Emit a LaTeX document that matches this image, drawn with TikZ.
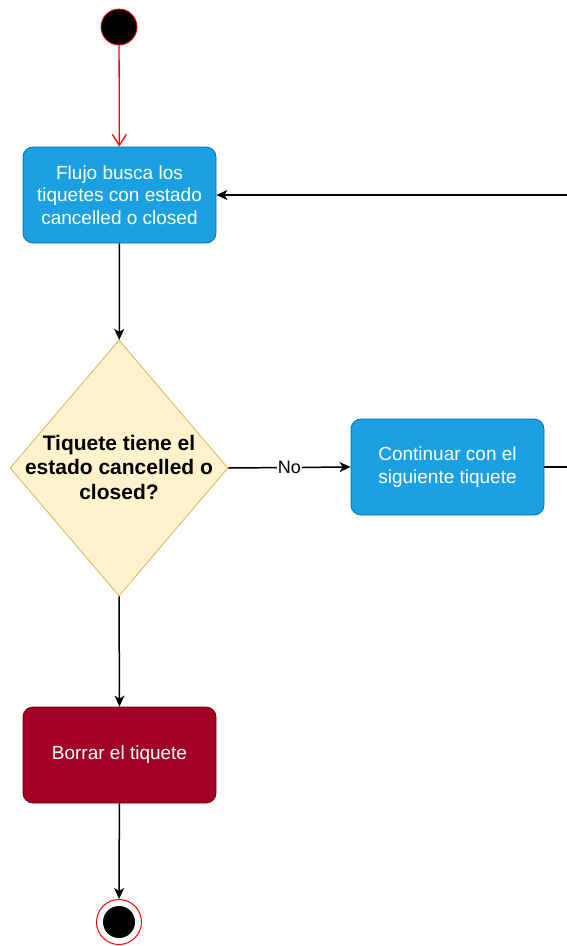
\documentclass[tikz,border=0pt]{standalone}
\usepackage{fontspec}
\setmainfont{Liberation Sans}
\usetikzlibrary{arrows.meta,shapes.geometric}
\definecolor{actfill}{HTML}{1BA1E2}
\definecolor{actline}{HTML}{006EAF}
\definecolor{decfill}{HTML}{FFF2CC}
\definecolor{decline}{HTML}{D6B656}
\definecolor{delfill}{HTML}{A20025}
\definecolor{delline}{HTML}{6F0000}
\begin{document}
\begin{tikzpicture}[x=1pt,y=-1pt,
  actbox/.style={rectangle,rounded corners=10pt,draw=actline,fill=actfill,line width=0.8pt,
    minimum width=193pt,minimum height=96pt,inner sep=0pt,text=white,align=center,
    font=\fontsize{19}{22.5}\selectfont},
  delbox/.style={actbox,draw=delline,fill=delfill},
  decision/.style={diamond,draw=decline,fill=decfill,line width=0.8pt,inner sep=0pt,
    minimum width=218pt,minimum height=256pt},
  dectext/.style={align=center,font=\fontsize{21}{24.5}\selectfont\bfseries,text=black},
  startnode/.style={circle,draw=red,fill=black,line width=0.8pt,minimum size=36pt,inner sep=0pt},
  endnode/.style={circle,draw=red,fill=white,line width=1pt,minimum size=45pt,inner sep=0pt,
    path picture={\fill[black] (path picture bounding box.center) circle (16pt);}},
  flow/.style={line width=1.5pt,draw=black,-{Stealth[length=11pt,width=10pt,inset=3pt]}},
  redflow/.style={line width=1.3pt,draw=red,-{Straight Barb[length=11pt,width=14pt]}},
  edgelabel/.style={fill=white,inner sep=1pt,font=\fontsize{18}{20}\selectfont}
]
\clip (0,0) rectangle (567,946);
\useasboundingbox (0,0) rectangle (567,946);

% activity nodes
\node[startnode] (start) at (119,27) {};
\node[actbox] (find) at (119.5,195) {Flujo busca los\\tiquetes con estado\\cancelled o closed};
\node[decision] (check) at (119,468) {};
\node[dectext] (checktext) at (119,467) {Tiquete tiene el\\estado cancelled o\\closed?};
\node[actbox] (next) at (447.5,467) {Continuar con el\\siguiente tiquete};
\node[delbox] (del) at (119.5,755) {Borrar el tiquete};
\node[endnode] (stop) at (119,922) {};

% transitions
\draw[redflow] (start) -- (find);
\draw[flow] (find) -- (check);
\draw[flow] (check.east) -- node[edgelabel] {No} (next.west);
\draw[flow] (next.east) -- ++(60,0) |- (find.east);
\draw[flow] (check.south) -- (del.north);
\draw[flow] (del) -- (stop);
\end{tikzpicture}
\end{document}
